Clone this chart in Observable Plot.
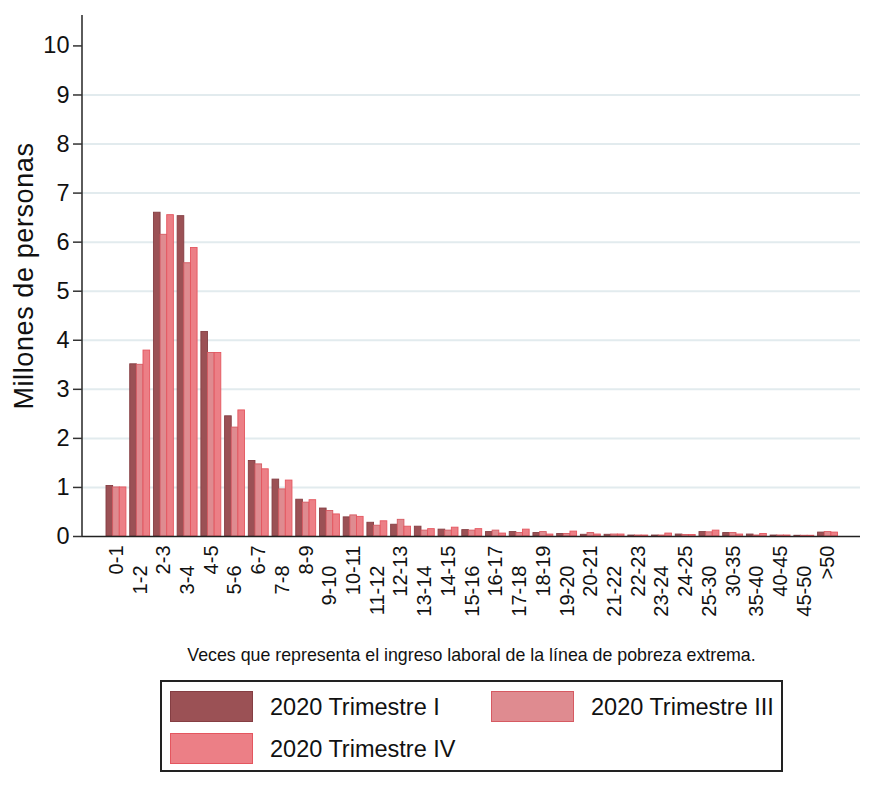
<!DOCTYPE html>
<html>
<head>
<meta charset="utf-8">
<script src="https://cdn.jsdelivr.net/npm/d3@7"></script>
<script src="https://cdn.jsdelivr.net/npm/@observablehq/plot@0.6"></script>
<style>
  html, body { margin: 0; padding: 0; background: #fff; }
  #wrap { position: relative; width: 874px; height: 790px; font-family: "Liberation Sans", Arial, sans-serif; }
  #legend { position: absolute; left: 160px; top: 680px; width: 619px; height: 88px; border: 2px solid #222; background: #fff; }
  .sw { position: absolute; width: 83px; height: 31px; box-sizing: border-box; border: 1.5px solid; }
  .lt { position: absolute; font-size: 23.5px; color: #111; line-height: 30px; white-space: nowrap; }
</style>
</head>
<body>
<div id="wrap">
  <div id="chart"></div>
  <div id="legend"></div>
</div>
<script>
const categories = ["0-1","1-2","2-3","3-4","4-5","5-6","6-7","7-8","8-9","9-10","10-11","11-12","12-13","13-14","14-15","15-16","16-17","17-18","18-19","19-20","20-21","21-22","22-23","23-24","24-25","25-30","30-35","35-40","40-45","45-50",">50"];
const seriesNames = ["2020 Trimestre I", "2020 Trimestre III", "2020 Trimestre IV"];
const trimestreI   = [1.03,3.51,6.60,6.53,4.17,2.45,1.54,1.16,0.75,0.57,0.39,0.28,0.24,0.20,0.14,0.13,0.09,0.09,0.07,0.05,0.035,0.035,0.02,0.02,0.04,0.09,0.07,0.04,0.02,0.015,0.08];
const trimestreIII = [1.00,3.50,6.15,5.57,3.74,2.22,1.47,0.96,0.69,0.52,0.43,0.22,0.34,0.12,0.12,0.12,0.12,0.07,0.09,0.05,0.07,0.04,0.02,0.02,0.03,0.085,0.07,0.02,0.02,0.015,0.09];
const trimestreIV  = [1.00,3.79,6.55,5.88,3.74,2.57,1.37,1.14,0.74,0.45,0.40,0.31,0.20,0.15,0.18,0.15,0.06,0.14,0.04,0.10,0.04,0.04,0.02,0.06,0.03,0.12,0.04,0.05,0.02,0.015,0.08];
const yTicks = [0,1,2,3,4,5,6,7,8,9,10];
const gridValues = [1,2,3,4,5,6,7,8,9];
const yTitle = "Millones de personas";
const xTitle = "Veces que representa el ingreso laboral de la línea de pobreza extrema.";

const fills   = ["#9b5155", "#df8b90", "#ec7f86"];
const strokes = ["#853e43", "#d65a62", "#e4565f"];

const seriesValues = [trimestreI, trimestreIII, trimestreIV];
const rows = [];
seriesValues.forEach((vals, s) => vals.forEach((v, i) => rows.push({cat: categories[i], s, value: v})));

const W = 874, H = 672;
const mL = 82, mR = 14, mT = 15, mB = 136;
const xRange = [104.1, 839.4];
const pIn = 0.16, pOut = 0.08;
const step = (xRange[1] - xRange[0]) / categories.length;
const bw = step * (1 - pIn);
const w = bw / 3;

const barMarks = [0,1,2].map(s => Plot.barY(rows.filter(r => r.s === s), {
  x: "cat", y: "value",
  fill: fills[s], stroke: strokes[s], strokeWidth: 0.9,
  insetLeft: s * w, insetRight: (2 - s) * w
}));

const evenCats = categories.filter((c, i) => i % 2 === 0);
const oddCats = categories.filter((c, i) => i % 2 === 1);

const plot = Plot.plot({
  width: W, height: H,
  marginLeft: mL, marginRight: mR, marginTop: mT, marginBottom: mB,
  style: {fontFamily: "'Liberation Sans', Arial, sans-serif", background: "#fff", color: "#111", overflow: "visible"},
  x: {domain: categories, range: xRange, paddingInner: pIn, paddingOuter: pOut, round: false, axis: null},
  y: {domain: [0, 10.62], axis: null},
  marks: [
    Plot.ruleY(gridValues, {stroke: "#e2ebee", strokeWidth: 2}),
    ...barMarks,
    Plot.ruleY([0], {stroke: "#222", strokeWidth: 1.5}),
    Plot.axisY({ticks: yTicks, tickSize: 9, tickPadding: 4, fontSize: 23.5, label: null, stroke: "#333", strokeWidth: 1.5}),
    Plot.text(evenCats, {x: d => d, text: d => d, frameAnchor: "bottom", rotate: -90, textAnchor: "end", lineAnchor: "middle", dy: 9, fontSize: 20, fill: "#111"}),
    Plot.text(oddCats, {x: d => d, text: d => d, frameAnchor: "bottom", rotate: -90, textAnchor: "end", lineAnchor: "middle", dy: 29, fontSize: 20, fill: "#111"}),
    Plot.text([xTitle], {frameAnchor: "bottom", textAnchor: "middle", lineAnchor: "middle", dy: 119, fontSize: 17.8, fill: "#111"}),
    Plot.text([yTitle], {frameAnchor: "left", textAnchor: "middle", lineAnchor: "middle", dx: -58, rotate: -90, fontSize: 27, fill: "#111", className: "ytitle"})
  ]
});

d3.select(plot).selectAll(".ytitle text").style("letter-spacing", "0.6px");

// left axis line
d3.select(plot).append("line")
  .attr("x1", mL).attr("x2", mL)
  .attr("y1", mT).attr("y2", H - mB)
  .attr("stroke", "#333").attr("stroke-width", 1.6);

document.getElementById("chart").appendChild(plot);

// legend
const legend = document.getElementById("legend");
const legendPos = [
  {sx: 8, sy: 9, tx: 108},
  {sx: 329, sy: 9, tx: 429},
  {sx: 8, sy: 51, tx: 108}
];
seriesNames.forEach((name, s) => {
  const p = legendPos[s];
  const sw = document.createElement("div");
  sw.className = "sw";
  sw.style.left = p.sx + "px"; sw.style.top = p.sy + "px";
  sw.style.background = fills[s]; sw.style.borderColor = strokes[s];
  legend.appendChild(sw);
  const t = document.createElement("div");
  t.className = "lt";
  t.style.left = p.tx + "px"; t.style.top = (p.sy + 1) + "px";
  t.textContent = name;
  legend.appendChild(t);
});
</script>
</body>
</html>
